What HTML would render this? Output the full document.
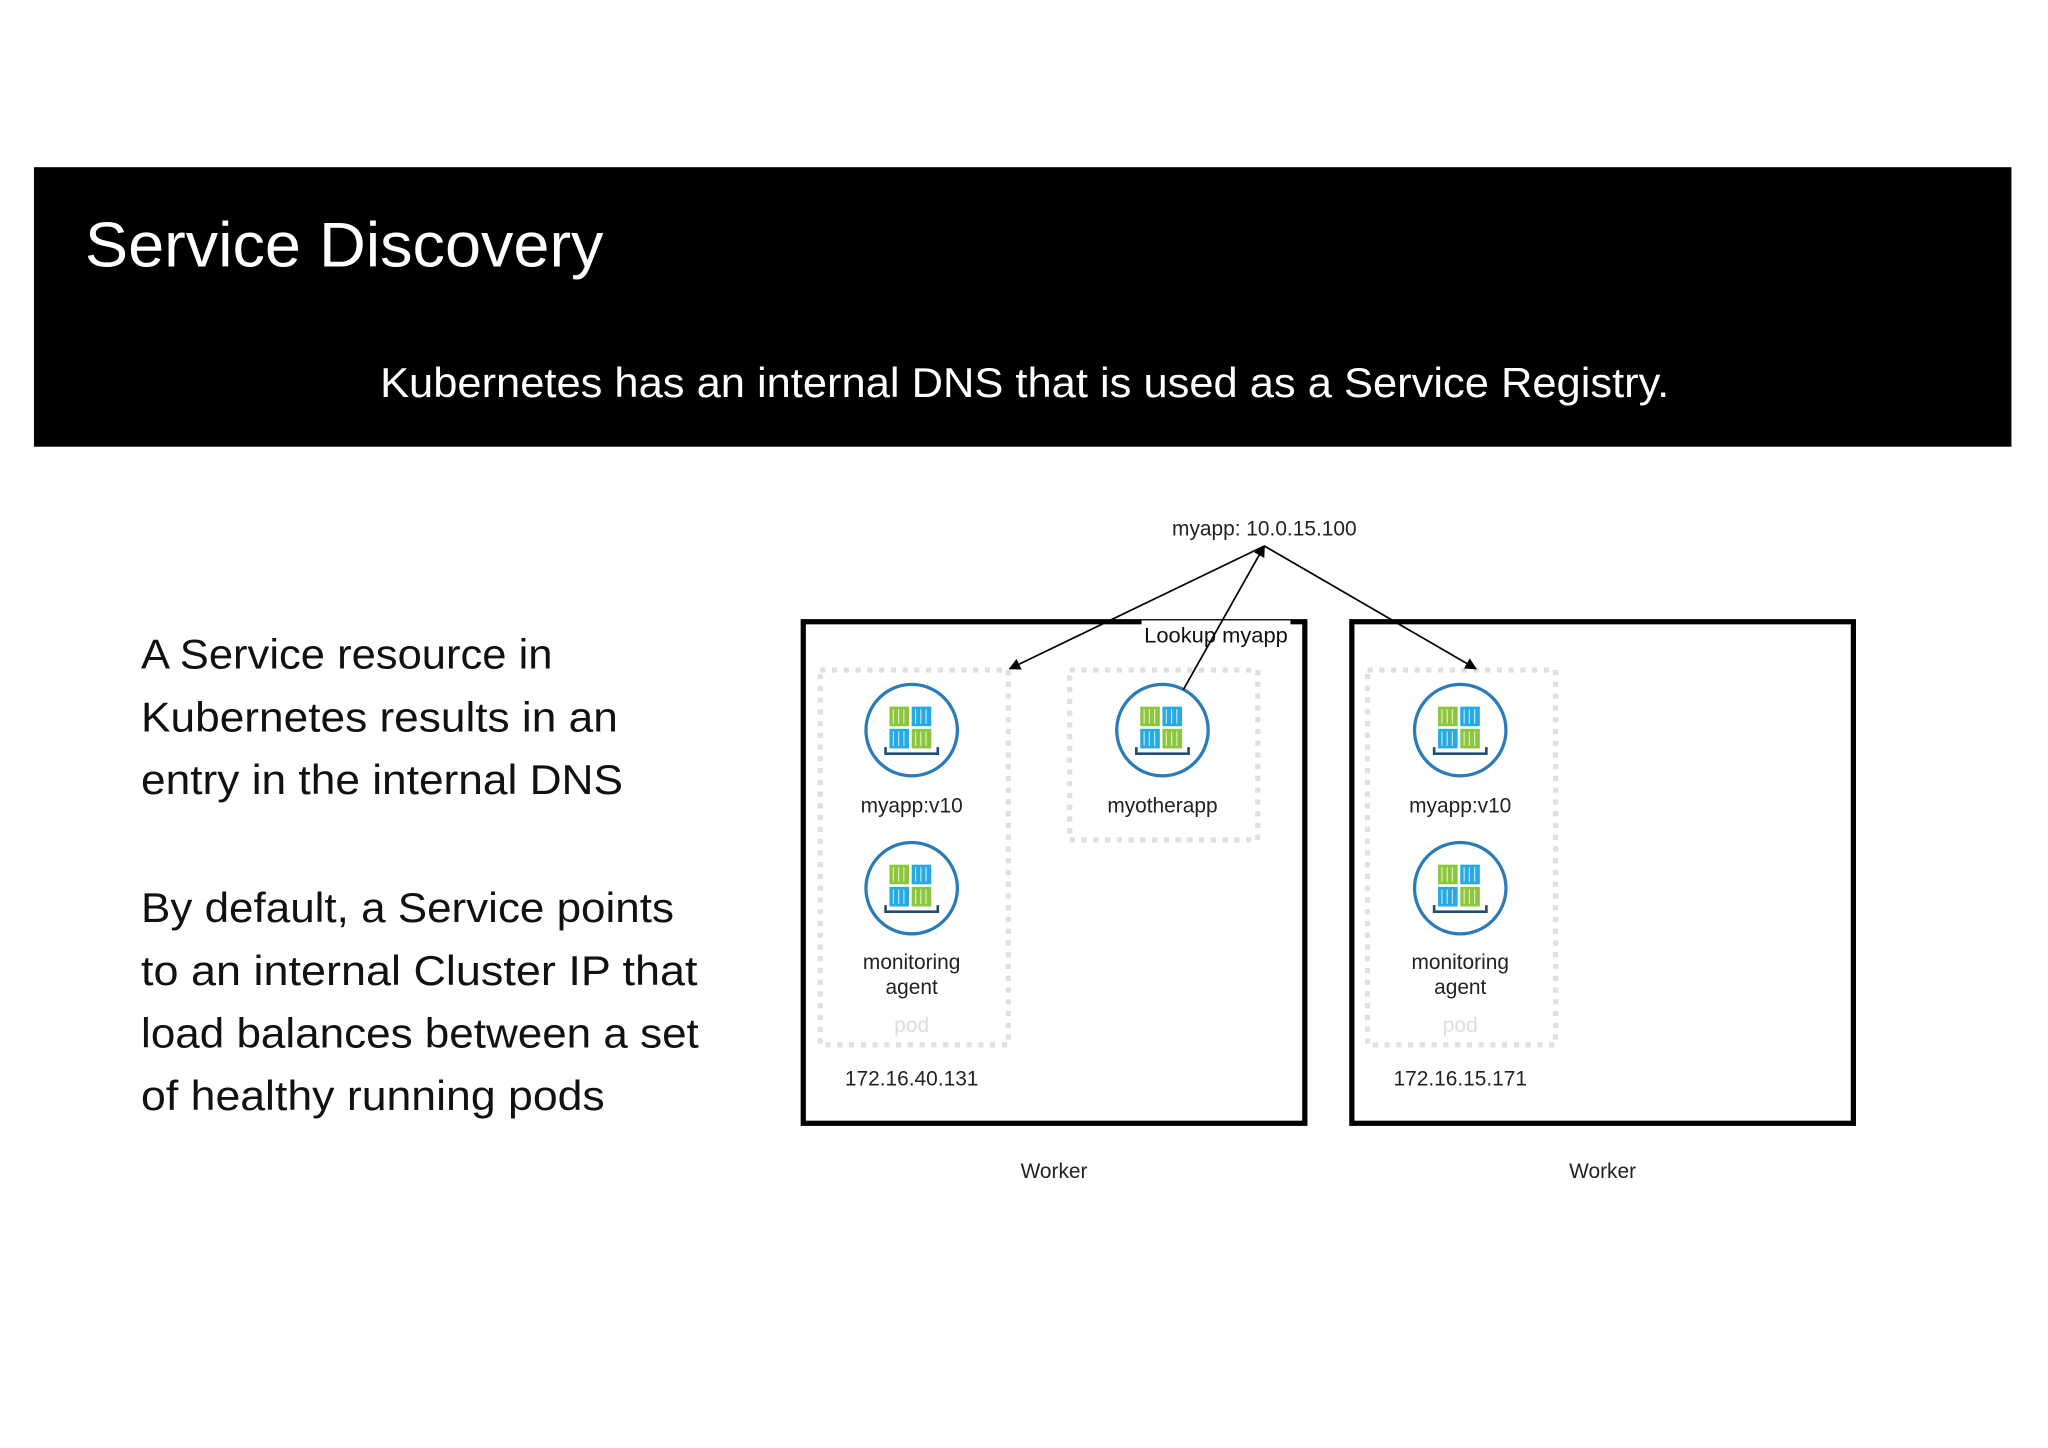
<!DOCTYPE html>
<html><head><meta charset="utf-8"><style>
html,body{margin:0;padding:0;background:#fff;}
svg{display:block;}
</style></head><body>
<svg width="2048" height="1448" viewBox="0 0 1568 1108.6" preserveAspectRatio="none" xmlns="http://www.w3.org/2000/svg" font-family="Liberation Sans, sans-serif">
<defs>
<g id="ic">
 <circle cx="0" cy="0" r="35" fill="#fff" stroke="#2b7bb9" stroke-width="2.5"/>
 <rect x="-17" y="-18" width="15" height="15" fill="#8cc63f"/>
 <rect x="0" y="-18" width="15" height="15" fill="#27aae1"/>
 <rect x="-17" y="-1" width="15" height="15" fill="#27aae1"/>
 <rect x="0" y="-1" width="15" height="15" fill="#8cc63f"/>
 <path d="M-14,-16v11M-10,-16v11M-6,-16v11M3,-16v11M7,-16v11M11,-16v11M-14,1v11M-10,1v11M-6,1v11M3,1v11M7,1v11M11,1v11" stroke="#fff" stroke-width="0.9" opacity="0.7"/>
 <path d="M-20,13v5h40v-5" fill="none" stroke="#1f4f6e" stroke-width="2"/>
</g>
<marker id="ah" viewBox="0 0 10 10" refX="9" refY="5" markerWidth="9" markerHeight="9" orient="auto" markerUnits="userSpaceOnUse"><path d="M0,0L10,5L0,10z" fill="#000"/></marker>
</defs>
<rect x="26" y="128" width="1514" height="214" fill="#000"/>
<text x="65" y="204" font-size="48" fill="#fff" textLength="397" lengthAdjust="spacingAndGlyphs">Service Discovery</text>
<text x="291" y="304" font-size="32" fill="#fff" textLength="987" lengthAdjust="spacingAndGlyphs">Kubernetes has an internal DNS that is used as a Service Registry.</text>
<g font-size="32" fill="#111">
<text x="108" y="512" textLength="315" lengthAdjust="spacingAndGlyphs">A Service resource in</text>
<text x="108" y="560" textLength="365" lengthAdjust="spacingAndGlyphs">Kubernetes results in an</text>
<text x="108" y="608" textLength="369" lengthAdjust="spacingAndGlyphs">entry in the internal DNS</text>
<text x="108" y="706" textLength="408" lengthAdjust="spacingAndGlyphs">By default, a Service points</text>
<text x="108" y="754" textLength="426" lengthAdjust="spacingAndGlyphs">to an internal Cluster IP that</text>
<text x="108" y="802" textLength="427" lengthAdjust="spacingAndGlyphs">load balances between a set</text>
<text x="108" y="850" textLength="355" lengthAdjust="spacingAndGlyphs">of healthy running pods</text>
</g>
<rect x="615" y="476" width="384" height="384" fill="none" stroke="#000" stroke-width="4"/>
<rect x="1035" y="476" width="384" height="384" fill="none" stroke="#000" stroke-width="4"/>
<g fill="none" stroke="#e0e0e0" stroke-width="4" stroke-dasharray="4 5">
<rect x="628" y="513" width="144" height="287"/>
<rect x="819" y="513" width="144" height="130"/>
<rect x="1047" y="513" width="144" height="287"/>
</g>
<use href="#ic" x="698" y="559"/>
<use href="#ic" x="698" y="680"/>
<use href="#ic" x="890" y="559"/>
<use href="#ic" x="1118" y="559"/>
<use href="#ic" x="1118" y="680"/>
<g font-size="16" fill="#222" text-anchor="middle">
<text x="968" y="410">myapp: 10.0.15.100</text>
<text x="698" y="622">myapp:v10</text>
<text x="890" y="622">myotherapp</text>
<text x="1118" y="622">myapp:v10</text>
<text x="698" y="742">monitoring</text>
<text x="698" y="761">agent</text>
<text x="1118" y="742">monitoring</text>
<text x="1118" y="761">agent</text>
<text x="698" y="790" fill="#ddd">pod</text>
<text x="1118" y="790" fill="#ddd">pod</text>
<text x="698" y="831">172.16.40.131</text>
<text x="1118" y="831">172.16.15.171</text>
<text x="807" y="902">Worker</text>
<text x="1227" y="902">Worker</text>
</g>
<rect x="874" y="475" width="114" height="22" fill="#fff"/>
<text x="876" y="492" font-size="16" fill="#111" textLength="110" lengthAdjust="spacingAndGlyphs">Lookup myapp</text>
<g stroke="#000" stroke-width="1.3" fill="none">
<line x1="968" y1="418" x2="773" y2="512" marker-end="url(#ah)"/>
<line x1="968" y1="418" x2="1130" y2="512" marker-end="url(#ah)"/>
<line x1="906" y1="528" x2="968" y2="418" marker-end="url(#ah)"/>
</g>
</svg>
</body></html>
